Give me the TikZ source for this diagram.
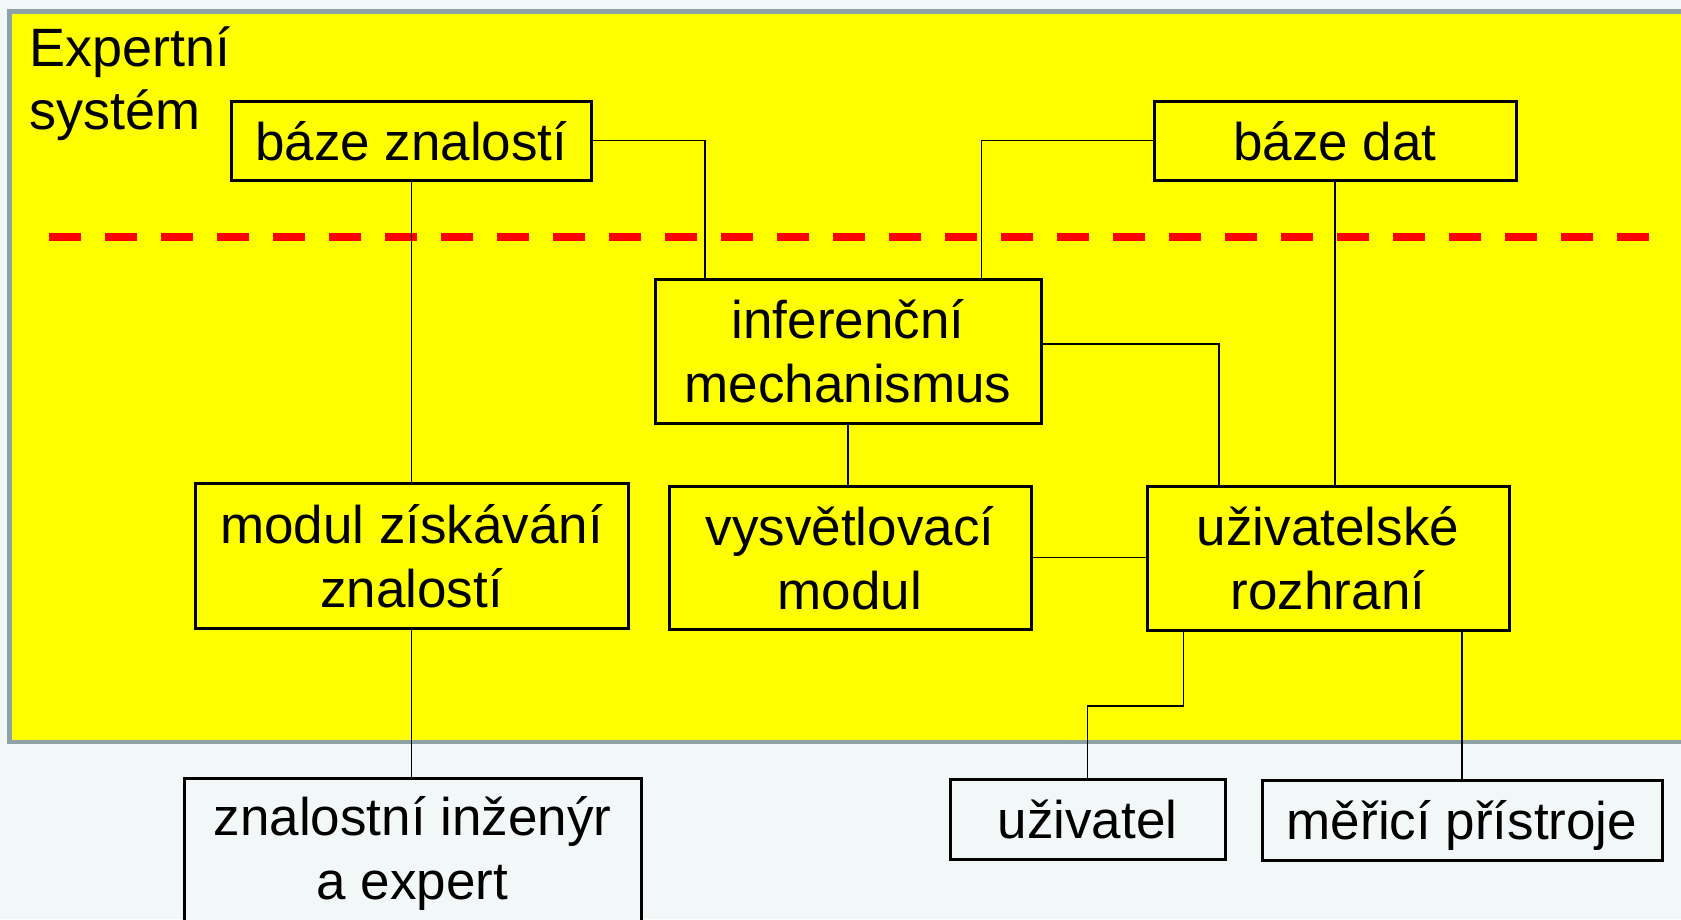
\documentclass[tikz,border=0pt]{standalone}
\usepackage{fontspec}
\setmainfont{Liberation Sans}
\definecolor{bgc}{RGB}{242,247,247}
\definecolor{frame}{RGB}{142,163,166}
\definecolor{ylw}{RGB}{255,255,0}
\begin{document}
\begin{tikzpicture}[x=1pt,y=-1pt,
  box/.style={draw=black, line width=3pt, fill=ylw, inner sep=0pt, align=center,
    font=\fontsize{53}{64}\selectfont, text depth=0pt},
  outbox/.style={box, fill=bgc},
  conn/.style={draw=black, line width=1.3pt}]
\fill[bgc] (0,0) rectangle (1681,919);
\useasboundingbox (0,0) rectangle (1681,919);
\draw[line width=4.5pt, draw=frame, fill=ylw] (9.7,11.7) rectangle (1700,742);
\node[anchor=north west, align=left, inner sep=0pt, font=\fontsize{54}{63}\selectfont] (title) at (29,27) {Expertní\\systém};
\draw[red, line width=7.3pt, dash pattern=on 32pt off 24pt] (49,237) -- (1650,237);

\node[box, minimum width=359.5pt, minimum height=78.5pt] (bz) at (411.25,140.75) {báze znalostí};
\node[box, minimum width=362pt, minimum height=79pt] (bd) at (1335,140.5) {báze dat};
\node[box, minimum width=386pt, minimum height=143.5pt] (inf) at (848,351.25) {inferenční\\mechanismus};
\node[box, minimum width=433pt, minimum height=144.5pt] (mzz) at (411.5,555.75) {modul získávání\\znalostí};
\node[box, minimum width=362pt, minimum height=143pt] (vm) at (850,557.5) {vysvětlovací\\modul};
\node[box, minimum width=362pt, minimum height=144pt] (ur) at (1328,558) {uživatelské\\rozhraní};
\node[outbox, minimum width=457pt, minimum height=180pt, text depth=39.6pt] (zie) at (412.5,868) {znalostní inženýr\\a expert};
\node[outbox, minimum width=275pt, minimum height=80pt] (uz) at (1087.5,819) {uživatel};
\node[outbox, minimum width=400pt, minimum height=80pt] (mp) at (1462,820) {měřicí přístroje};

\draw[conn] (bz.east) -| ([xshift=51.5pt]inf.north west);
\draw[conn] (bd.west) -| ([xshift=-61pt]inf.north east);
\draw[conn] (bz.south) -- (bz.south |- mzz.north);
\draw[conn] (bd.south) -- (bd.south |- ur.north);
\draw[conn] ([yshift=7.25pt]inf.east) -| ([xshift=73.5pt]ur.north west);
\draw[conn] (inf.south) -- (inf.south |- vm.north);
\draw[conn] (vm.east) -- (vm.east -| ur.west);
\draw[conn] (mzz.south) -- (mzz.south |- zie.north);
\draw[conn] ([xshift=38pt]ur.south west) -- ++(0,74.4) -| (uz.north);
\draw[conn] (mp.north |- ur.south) -- (mp.north);
\end{tikzpicture}
\end{document}
